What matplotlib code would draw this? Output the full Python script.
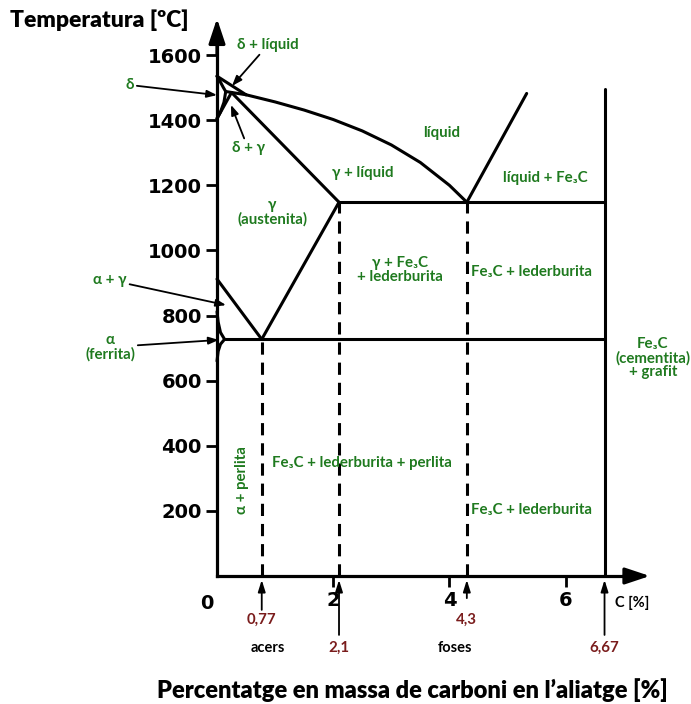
import matplotlib
matplotlib.use("Agg")
import matplotlib.pyplot as plt

# punts del diagrama Fe-C (C %, temperatura ºC)
liquid_x = [0.50, 1.00, 1.50, 2.00, 2.50, 3.00, 3.50, 4.00, 4.30]
liquid_T = [1478, 1456, 1431, 1402, 1367, 1324, 1270, 1200, 1148]
hiper_x = [4.30, 5.33]
hiper_T = [1148, 1482]
delta_sup_x = [0.0, 0.05, 0.11, 0.15]
delta_sup_T = [1535, 1520, 1500, 1488]
delta_inf_x = [0.15, 0.12, 0.06, 0.0]
delta_inf_T = [1488, 1455, 1425, 1405]
alfa_x = [0.0, 0.02, 0.06, 0.13, 0.06, 0.02, 0.0]
alfa_T = [812, 780, 748, 727, 712, 690, 660]

A = (0.0, 1535)
B = (0.50, 1478)
H = (0.15, 1488)
J = (0.25, 1485)
N = (0.0, 1405)
E = (2.1, 1148)
C = (4.3, 1148)
F = (6.67, 1148)
G = (0.0, 912)
S = (0.77, 727)
P = (0.13, 727)
K = (6.67, 727)
T_cem = 1495

verticals = [0.77, 2.1, 4.3]
etiquetes_punts = ["0,77", "2,1", "4,3", "6,67"]

verd = "#1f7a1f"
vermell = "#7a1c1c"
fam = ["Lato", "DejaVu Sans"]

fig = plt.figure(figsize=(6.91, 7.04), dpi=100)
ax = fig.add_axes([0, 0, 1, 1])
ax.set_xlim(-217 / 58.1, (691 - 217) / 58.1)
ax.set_ylim(-128 / 0.3256, 576 / 0.3256)

for s in ["top", "right"]:
    ax.spines[s].set_visible(False)
ax.spines["left"].set_position(("data", 0))
ax.spines["bottom"].set_position(("data", 0))
ax.spines["left"].set_bounds(0, 1660)
ax.spines["bottom"].set_bounds(0, 7.25)
ax.spines["left"].set_linewidth(2.3)
ax.spines["bottom"].set_linewidth(2.3)
ax.set_yticks([200, 400, 600, 800, 1000, 1200, 1400, 1600])
ax.set_xticks([2, 4, 6])
ax.tick_params(axis="both", length=8, width=2, direction="out", labelsize=14, pad=3)
for lab in ax.get_xticklabels() + ax.get_yticklabels():
    lab.set_fontweight("bold")
ax.text(-0.17, -83, "0", fontsize=14, fontweight="bold", ha="center", va="center")

# fletxes dels eixos
ax.annotate("", xy=(0, 1712), xytext=(0, 1600),
            arrowprops=dict(arrowstyle="-|>,head_length=0.75,head_width=0.25", lw=2.3,
                            color="k", mutation_scale=20, shrinkA=0, shrinkB=0))
ax.annotate("", xy=(7.45, 0), xytext=(7.0, 0),
            arrowprops=dict(arrowstyle="-|>,head_length=0.75,head_width=0.25", lw=2.3,
                            color="k", mutation_scale=20, shrinkA=0, shrinkB=0))

lw = 2.2
kw = dict(color="black", lw=lw, solid_capstyle="round", solid_joinstyle="round")
ax.plot(liquid_x, liquid_T, **kw)
ax.plot(hiper_x, hiper_T, **kw)
ax.plot(delta_sup_x, delta_sup_T, **kw)
ax.plot(delta_inf_x, delta_inf_T, **kw)
ax.plot([A[0], B[0]], [A[1], B[1]], **kw)
ax.plot([H[0], B[0]], [H[1], B[1]], **kw)
ax.plot([N[0], J[0]], [N[1], J[1]], **kw)
ax.plot([J[0], E[0]], [J[1], E[1]], **kw)
ax.plot([E[0], F[0]], [E[1], F[1]], **kw)
ax.plot([G[0], S[0]], [G[1], S[1]], **kw)
ax.plot([E[0], S[0]], [E[1], S[1]], **kw)
ax.plot([P[0], K[0]], [P[1], K[1]], **kw)
ax.plot(alfa_x, alfa_T, **kw)
ax.plot([6.67, 6.67], [0, T_cem], **kw)

ax.plot([S[0], S[0]], [0, S[1]], color="black", lw=lw, linestyle=(0, (4, 2.6)))
ax.plot([E[0], E[0]], [0, E[1]], color="black", lw=lw, linestyle=(0, (4, 2.6)))
ax.plot([C[0], C[0]], [0, C[1]], color="black", lw=lw, linestyle=(0, (4, 2.6)))

# etiquetes de les fases
tk = dict(color=verd, fontsize=10.8, fontweight="bold", family=fam, ha="center", va="center",
          linespacing=1.0)
ax.text(3.87, 1360, "líquid", **tk)
ax.text(2.50, 1238, "γ + líquid", **tk)
ax.text(5.65, 1222, "líquid + Fe₃C", **tk)
ax.text(0.95, 1118, "γ\n(austenita)", **tk)
ax.text(3.15, 940, "γ + Fe₃C\n+ lederburita", **tk)
ax.text(5.42, 934, "Fe₃C + lederburita", **tk)
ax.text(7.50, 670, "Fe₃C\n(cementita)\n+ grafit", **tk)
ax.text(0.43, 295, "α + perlita", rotation=90, **tk)
ax.text(2.50, 347, "Fe₃C + lederburita + perlita", **tk)
ax.text(5.42, 203, "Fe₃C + lederburita", **tk)

ap = dict(arrowstyle="-|>,head_length=0.6,head_width=0.22", lw=1.3, color="k",
          mutation_scale=10, shrinkA=0, shrinkB=0)
ax.annotate("δ + líquid", xy=(0.258, 1505), xytext=(0.878, 1631), arrowprops=ap, **tk)
ax.annotate("δ", xy=(0.0, 1477), xytext=(-1.50, 1508), arrowprops=ap, **tk)
ax.annotate("δ + γ", xy=(0.24, 1447), xytext=(0.534, 1314), arrowprops=ap, **tk)
ax.annotate("α + γ", xy=(0.155, 832), xytext=(-1.84, 909), arrowprops=ap, **tk)
ax.annotate("α\n(ferrita)", xy=(0.03, 725), xytext=(-1.84, 703), arrowprops=ap, **tk)

# punts de referència sota l'eix
punts_x = verticals + [6.67]
inici = [-104, -181, -68, -181]
text_T = [-135, -221, -135, -221]
for x, t0, tt, lab in zip(punts_x, inici, text_T, etiquetes_punts):
    ax.annotate("", xy=(x, -12), xytext=(x, t0),
                arrowprops=dict(arrowstyle="-|>,head_length=0.7,head_width=0.22", lw=1.3,
                                color="k", mutation_scale=10, shrinkA=0, shrinkB=0))
    ax.text(x, tt, lab, color=vermell, fontsize=10.8, fontweight="bold", family=fam,
            ha="center", va="center")
ax.text(0.88, -221, "acers", color="black", fontsize=10.5, fontweight="bold", family=fam,
        ha="center", va="center")
ax.text(4.10, -221, "foses", color="black", fontsize=10.5, fontweight="bold", family=fam,
        ha="center", va="center")
ax.text(7.14, -83, "C [%]", color="black", fontsize=10.5, fontweight="bold", family=fam,
        ha="center", va="center")

ax.text(-3.56, 1708, "Temperatura [ºC]", fontsize=16.5, fontweight="heavy", family=fam,
        ha="left", va="center")
ax.text(3.36, -350, "Percentatge en massa de carboni en l’aliatge [%]", fontsize=17,
        fontweight="heavy", family=fam, ha="center", va="center")

fig.savefig("out.png", dpi=100)
